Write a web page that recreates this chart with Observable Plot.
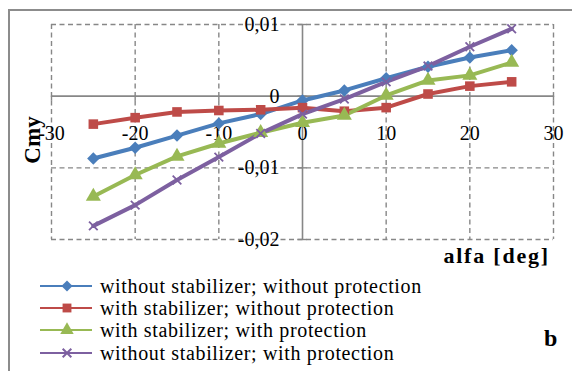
<!DOCTYPE html>
<html>
<head>
<meta charset="utf-8">
<script src="https://cdn.jsdelivr.net/npm/d3@7"></script>
<script src="https://cdn.jsdelivr.net/npm/@observablehq/plot@0.6"></script>
<style>
  html, body { margin: 0; padding: 0; background: #fff; }
  #wrap { position: relative; width: 575px; height: 371px; overflow: hidden; background: #fff;
          font-family: "Liberation Serif", "Times New Roman", serif; color: #000; }
  #frame { position: absolute; left: 8px; top: 9px; width: 562px; height: 380px;
           border-left: 2px solid #8c8c8c; border-top: 2px solid #8c8c8c; }
  #chart { position: absolute; left: 0; top: 0; }
  #ylab { position: absolute; left: 33px; top: 140px; transform: translate(-50%, -50%) rotate(-90deg);
          font-weight: bold; font-size: 23px; white-space: nowrap; }
  #xlab { position: absolute; right: 25px; top: 243px; font-weight: bold; font-size: 22px;
          letter-spacing: 1.8px; white-space: nowrap; }
  #blab { position: absolute; left: 544px; top: 325px; font-weight: bold; font-size: 24px; }
  #legend { position: absolute; left: 38px; top: 275px; }
  .row { display: flex; align-items: center; height: 22.2px; }
  .row svg { width: 56px; height: 22px; flex: none; }
  .row span { font-size: 20px; letter-spacing: 0.65px; margin-left: 6px; white-space: nowrap; line-height: 22px; }
</style>
</head>
<body>
<div id="wrap">
  <div id="frame"></div>
  <div id="chart"></div>
  <div id="ylab">Cmy</div>
  <div id="xlab">alfa [deg]</div>
  <div id="blab">b</div>
  <div id="legend"></div>
</div>
<script>
const alfa = [-25, -20, -15, -10, -5, 0, 5, 10, 15, 20, 25];
const seriesNames = [
  "without stabilizer; without protection",
  "with stabilizer; without protection",
  "with stabilizer; with protection",
  "without stabilizer; with protection"
];
const woStabWoProt = [-0.0087, -0.0072, -0.0055, -0.0038, -0.0025, -0.0006, 0.0008, 0.0025, 0.0041, 0.0054, 0.0064];
const wStabWoProt  = [-0.0039, -0.0030, -0.0022, -0.0020, -0.0019, -0.0016, -0.0021, -0.0016, 0.0003, 0.0014, 0.0020];
const wStabWProt   = [-0.0140, -0.0110, -0.0084, -0.0066, -0.0051, -0.0037, -0.0027, 0.0001, 0.0022, 0.0029, 0.0047];
const woStabWProt  = [-0.0181, -0.0152, -0.0117, -0.0085, -0.0052, -0.0025, -0.0004, 0.0020, 0.0042, 0.0069, 0.0094];
const seriesValues = [woStabWoProt, wStabWoProt, wStabWProt, woStabWProt];
const colors = ["#4a7ebb", "#be4b48", "#98b954", "#7d60a0"];
const symbols = ["diamond2", "square", "triangle", "times"];
const xTicks = [-30, -20, -10, 0, 10, 20, 30];
const xTickLabels = ["-30", "-20", "-10", "0", "10", "20", "30"];
const yTicks = [0.01, 0, -0.01, -0.02];
const yTickLabels = ["0,01", "0", "-0,01", "-0,02"];

const data = [];
seriesNames.forEach((name, i) => {
  alfa.forEach((a, j) => data.push({series: name, idx: i, x: a, y: seriesValues[i][j]}));
});

const grey = "#878787";
const marks = [
  Plot.ruleX(xTicks.filter(d => d !== 0), {stroke: grey, strokeWidth: 1.4, strokeDasharray: "5,3.5"}),
  Plot.ruleY(yTicks.filter(d => d !== 0), {stroke: grey, strokeWidth: 1.4, strokeDasharray: "5,3.5"}),
  Plot.ruleY([0], {x1: () => -30, x2: () => 30, stroke: grey, strokeWidth: 1.6}),
  Plot.ruleX([0], {y1: () => -0.02, y2: () => 0.01, stroke: grey, strokeWidth: 1.6}),
  Plot.ruleY(yTicks, {y: d => d, x1: () => -0.55, x2: () => 0.55, stroke: grey, strokeWidth: 1.4}),
  Plot.ruleX(xTicks, {x: d => d, y1: () => 0, y2: () => -0.0007, stroke: grey, strokeWidth: 1.4}),
  Plot.text(xTicks.map((d, i) => ({v: d, t: xTickLabels[i]})),
    {x: "v", y: () => 0, text: "t", dy: 37, fontSize: 20, fill: "#000", lineAnchor: "middle"}),
  Plot.text(yTicks.map((d, i) => ({v: d, t: yTickLabels[i]})),
    {x: () => 0, y: "v", text: "t", dx: -23, textAnchor: "end", fontSize: 20, fill: "#000", lineAnchor: "middle"})
];
seriesNames.forEach((name, i) => {
  const d = data.filter(r => r.idx === i);
  marks.push(Plot.line(d, {x: "x", y: "y", stroke: colors[i], strokeWidth: 4, strokeLinejoin: "round", strokeLinecap: "round"}));
});
seriesNames.forEach((name, i) => {
  const d = data.filter(r => r.idx === i);
  if (symbols[i] === "times") {
    marks.push(Plot.dot(d, {x: "x", y: "y", symbol: "times", r: 4, stroke: colors[i], strokeWidth: 1.8, fill: "none"}));
  } else {
    marks.push(Plot.dot(d, {x: "x", y: "y", symbol: symbols[i], r: symbols[i] === "square" ? 5.4 : 5.6, fill: colors[i], stroke: "none"}));
  }
});

const chart = Plot.plot({
  width: 575,
  height: 280,
  marginTop: 24,
  marginLeft: 51,
  marginRight: 22,
  marginBottom: 41,
  x: {type: "linear", domain: [-30, 30], axis: null},
  y: {type: "linear", domain: [-0.02, 0.01], axis: null},
  style: {fontFamily: '"Liberation Serif", "Times New Roman", serif', background: "transparent", overflow: "visible"},
  marks
});
document.getElementById("chart").appendChild(chart);

// legend
const legend = document.getElementById("legend");
const symMap = {diamond2: d3.symbolDiamond2, square: d3.symbolSquare, triangle: d3.symbolTriangle, times: d3.symbolTimes};
seriesNames.forEach((name, i) => {
  const row = document.createElement("div");
  row.className = "row";
  const r = symbols[i] === "times" ? 4 : 5;
  const path = d3.symbol(symMap[symbols[i]], r * r * Math.PI)();
  const isStroke = symbols[i] === "times";
  row.innerHTML = `<svg viewBox="0 0 56 22"><line x1="2" x2="54" y1="11" y2="11" stroke="${colors[i]}" stroke-width="2"/>` +
    `<path transform="translate(29,11)" d="${path}" ${isStroke ? `fill="none" stroke="${colors[i]}" stroke-width="2"` : `fill="${colors[i]}"`}/></svg>` +
    `<span>${name}</span>`;
  legend.appendChild(row);
});
</script>
</body>
</html>
